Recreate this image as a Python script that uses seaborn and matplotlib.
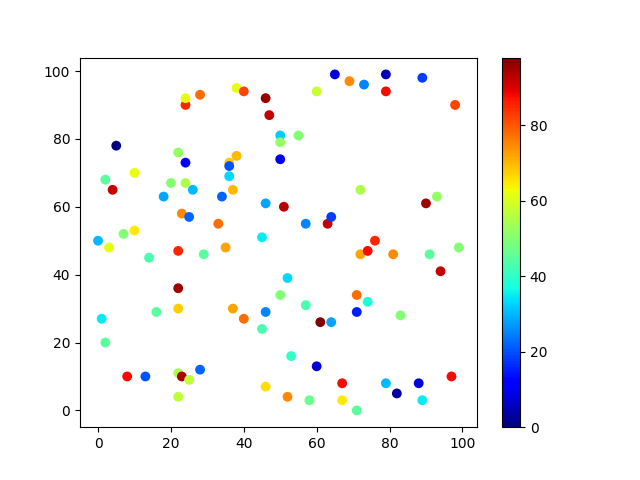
import matplotlib
matplotlib.use("Agg")
import matplotlib.pyplot as plt
import numpy as np
import pandas as pd
import seaborn as sns
from matplotlib import cm, colors

# Point positions and colour values
xs = [0, 1, 2, 2, 3, 4, 5, 7, 8, 10,
      10, 13, 14, 16, 18, 20, 22, 22, 22, 22,
      22, 22, 23, 23, 24, 24, 24, 24, 25, 25,
      26, 28, 28, 29, 33, 34, 35, 36, 36, 36,
      37, 37, 38, 38, 40, 40, 45, 45, 46, 46,
      46, 46, 47, 50, 50, 50, 50, 51, 52, 52,
      53, 55, 57, 57, 58, 60, 60, 61, 63, 64,
      64, 65, 67, 67, 69, 71, 71, 71, 72, 72,
      73, 74, 74, 76, 79, 79, 79, 81, 82, 83,
      88, 89, 89, 90, 91, 93, 94, 97, 98, 99]
ys = [50, 27, 68, 20, 48, 65, 78, 52, 10, 70,
      53, 10, 45, 29, 63, 67, 76, 47, 36, 30,
      11, 4, 10, 58, 90, 92, 73, 67, 57, 9,
      65, 93, 12, 46, 55, 63, 48, 73, 72, 69,
      65, 30, 95, 75, 94, 27, 51, 24, 92, 61,
      29, 7, 87, 81, 79, 74, 34, 60, 39, 4,
      16, 81, 55, 31, 3, 94, 13, 26, 55, 57,
      26, 99, 8, 3, 97, 34, 29, 0, 65, 46,
      96, 47, 32, 50, 99, 94, 8, 46, 5, 28,
      8, 98, 3, 61, 46, 63, 41, 10, 90, 48]
values = [30, 35, 45, 45, 62, 92, 0, 50, 88, 62,
          65, 20, 43, 45, 28, 50, 52, 85, 95, 68,
          55, 57, 94, 75, 85, 62, 12, 55, 22, 57,
          30, 78, 22, 45, 78, 22, 72, 68, 20, 33,
          70, 72, 62, 70, 82, 78, 35, 43, 96, 28,
          25, 66, 92, 32, 52, 10, 50, 93, 33, 75,
          40, 50, 25, 43, 47, 58, 8, 98, 92, 18,
          28, 8, 88, 65, 75, 78, 15, 45, 55, 72,
          25, 88, 38, 85, 5, 88, 30, 75, 3, 50,
          8, 18, 35, 95, 45, 52, 92, 88, 82, 50]

df = pd.DataFrame({"x": xs, "y": ys, "value": values})
norm = colors.Normalize(vmin=min(values), vmax=max(values))
jet = plt.get_cmap("jet")

fig, ax = plt.subplots(figsize=(6.4, 4.8), dpi=100)
sns.scatterplot(data=df, x="x", y="y", hue="value", palette=jet,
                hue_norm=norm, s=50, linewidth=0, legend=False, ax=ax)
ax.set_xlabel("")
ax.set_ylabel("")
ax.set_xticks([0, 20, 40, 60, 80, 100])
ax.set_yticks([0, 20, 40, 60, 80, 100])

sm = cm.ScalarMappable(norm=norm, cmap=jet)
cbar = fig.colorbar(sm, ax=ax)
cbar.set_ticks([0, 20, 40, 60, 80])

fig.savefig("out.png", dpi=100)
